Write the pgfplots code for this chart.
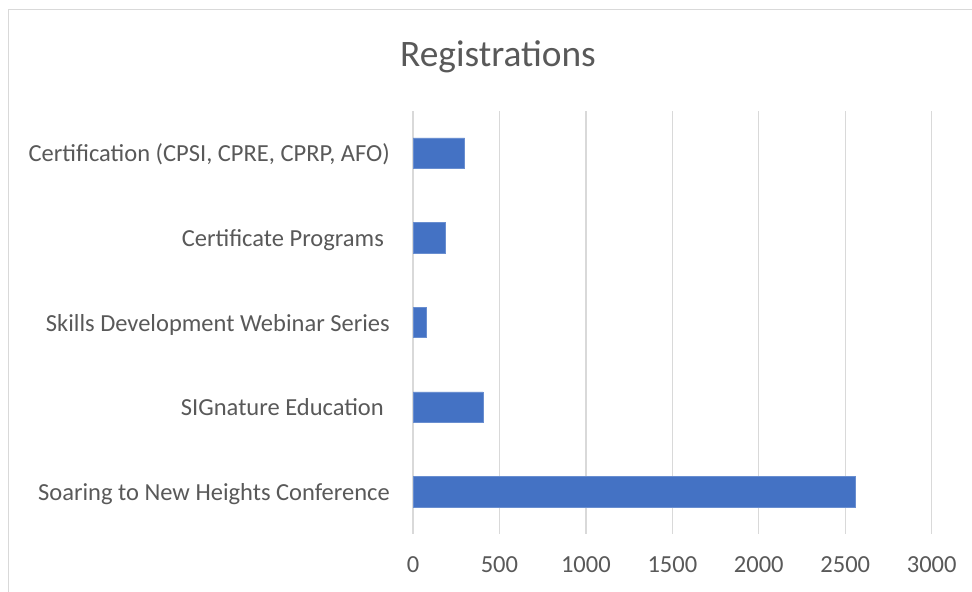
\documentclass[border=0pt]{standalone}
\usepackage{pgfplots}
\pgfplotsset{compat=1.18}
\usepackage{fontspec}
\setmainfont{Carlito}
\definecolor{barblue}{HTML}{4472C4}
\definecolor{txtgray}{HTML}{595959}
\definecolor{gridgray}{HTML}{D9D9D9}
\begin{document}
\begin{tikzpicture}[x=1bp,y=1bp]
\useasboundingbox (0,0) rectangle (972,592);
\fill[white] (0,0) rectangle (972,592);
\draw[gridgray, line width=1.5bp] (8.5,-20) -- (8.5,582.5) -- (1000,582.5);
\node[anchor=base, text=txtgray, font=\fontsize{37.5}{44}\selectfont] at (498,525) {Registrations};
\begin{axis}[
  at={(413bp,58bp)}, anchor=south west,
  scale only axis, width=518.7bp, height=423.3bp,
  xmin=0, xmax=3000, ymin=-0.5, ymax=4.5,
  xtick={0,500,...,3000},
  ytick={0,1,2,3,4},
  yticklabels={Soaring to New Heights Conference, SIGnature Education\kern6bp, Skills Development Webinar Series, Certificate Programs\kern6bp, {Certification (CPSI, CPRE, CPRP, AFO)}},
  axis line style={draw=none},
  major tick length=0pt,
  xmajorgrids, major grid style={gridgray, line width=1.3bp},
  ymajorgrids=false,
  /pgf/number format/assume math mode=true,
  /pgf/number format/1000 sep={},
  tick label style={text=txtgray, font=\fontsize{24.6}{29}\selectfont, inner sep=0pt},
  xticklabel style={anchor=base, yshift=-38.5bp},
  yticklabel style={anchor=base east, xshift=-23bp, yshift=-8.9bp},
  xbar, bar width=30.4bp, bar shift=0pt,
  clip=false,
]
\addplot[fill=barblue, draw=barblue!80!white, line width=0.5bp] coordinates {
  (2560,0) (405,1) (78,2) (187,3) (298,4)
};
\end{axis}
\end{tikzpicture}
\end{document}
